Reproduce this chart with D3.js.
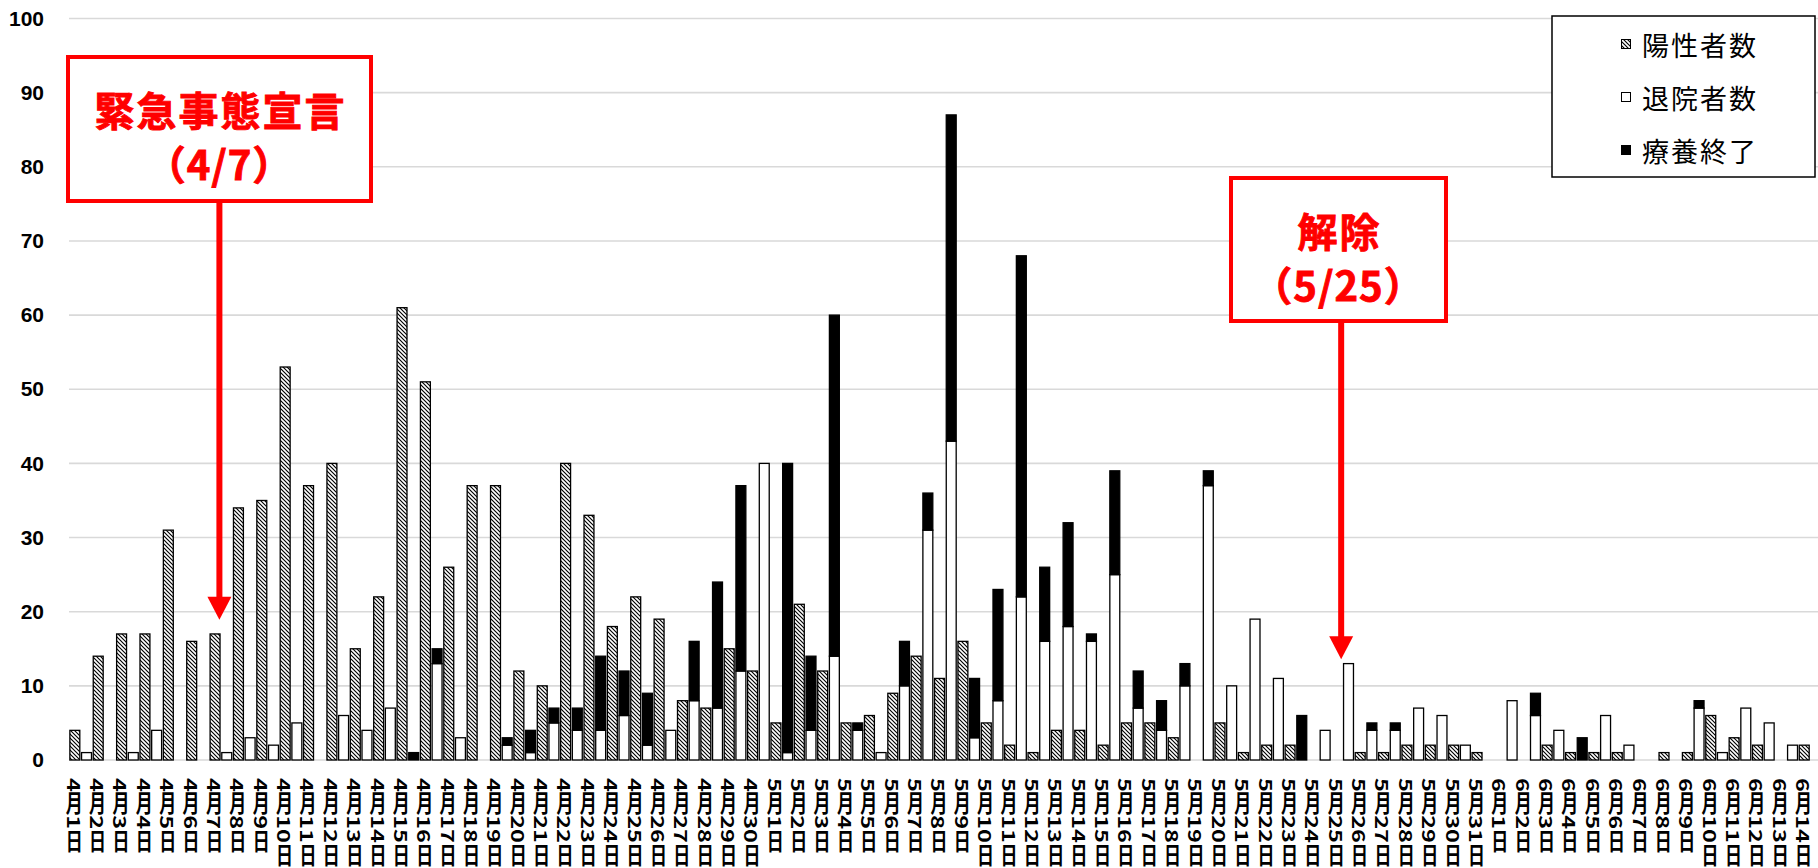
<!DOCTYPE html>
<html>
<head>
<meta charset="utf-8">
<script src="https://cdn.jsdelivr.net/npm/d3@7"></script>
<style>
  html, body { margin: 0; padding: 0; background: #fff; }
  svg { display: block; }
</style>
</head>
<body>
<svg id="chart" width="1818" height="868"></svg>
<script>
// Daily categories, April 1 to June 14
const dates = [
  "4月1日","4月2日","4月3日","4月4日","4月5日","4月6日","4月7日","4月8日","4月9日","4月10日",
  "4月11日","4月12日","4月13日","4月14日","4月15日","4月16日","4月17日","4月18日","4月19日","4月20日",
  "4月21日","4月22日","4月23日","4月24日","4月25日","4月26日","4月27日","4月28日","4月29日","4月30日",
  "5月1日","5月2日","5月3日","5月4日","5月5日","5月6日","5月7日","5月8日","5月9日","5月10日",
  "5月11日","5月12日","5月13日","5月14日","5月15日","5月16日","5月17日","5月18日","5月19日","5月20日",
  "5月21日","5月22日","5月23日","5月24日","5月25日","5月26日","5月27日","5月28日","5月29日","5月30日",
  "5月31日","6月1日","6月2日","6月3日","6月4日","6月5日","6月6日","6月7日","6月8日","6月9日",
  "6月10日","6月11日","6月12日","6月13日","6月14日"
];

// 陽性者数 (new positives)
const positives = [
  4,14,17,17,31,16,17,34,35,53,
  37,40,15,22,61,51,26,37,37,12,
  10,40,33,18,22,19,8,7,15,12,
  5,21,12,5,6,9,14,11,16,5,
  2,1,4,4,2,5,5,3,0,5,
  1,2,2,0,0,1,1,2,2,2,
  1,0,0,2,1,1,1,0,1,1,
  6,3,2,0,2
];

// 退院者数 (discharged)
const discharged = [
  1,0,1,4,0,0,1,3,2,5,
  0,6,4,7,0,13,3,0,2,1,
  5,4,4,6,2,4,8,7,12,40,
  1,4,14,4,1,10,31,43,3,8,
  22,16,18,16,25,7,4,10,37,10,
  19,11,0,4,13,4,4,7,6,2,
  0,8,6,4,0,6,2,0,0,7,
  1,7,5,2,0
];

// 療養終了 (end of treatment), stacked on top of discharged
const treatmentEnded = [
  0,0,0,0,0,0,0,0,0,0,
  0,0,0,0,1,2,0,0,1,3,
  2,3,10,6,7,0,8,17,25,0,
  39,10,46,1,0,6,5,44,8,15,
  46,10,14,1,14,5,4,3,2,0,
  0,0,6,0,0,1,1,0,0,0,
  0,0,3,0,3,0,0,0,0,1,
  0,0,0,0,0
];

const seriesNames = ["陽性者数", "退院者数", "療養終了"];
const yTicks = [0, 10, 20, 30, 40, 50, 60, 70, 80, 90, 100];

// Event callouts
const events = [
  { date: "4月7日", title: "緊急事態宣言", sub: "（4/7）", tip: 18.9,
    box: { x: 68, y: 57, w: 303, h: 144 } },
  { date: "5月25日", title: "解除", sub: "（5/25）", tip: 13.6,
    box: { x: 1231, y: 178, w: 215, h: 143 } }
];

const svg = d3.select("#chart");
const band = 23.37;
const left = 69;

const x = d3.scaleBand().domain(dates).range([left, left + band * dates.length]);
const sub = d3.scaleBand().domain(["pos", "dis"]).range([0, x.bandwidth()])
  .paddingInner(0.15).paddingOuter(0.075);
const y = d3.scaleLinear().domain([0, 100]).range([760, 18.5]);

// Diagonal hatch fill for positives
const defs = svg.append("defs");
const pat = defs.append("pattern").attr("id", "hatch")
  .attr("patternUnits", "userSpaceOnUse").attr("width", 4).attr("height", 4);
pat.append("rect").attr("width", 4).attr("height", 4).attr("fill", "#fff");
pat.append("path").attr("d", "M-1,-1 L5,5 M-1,3 L1,5 M3,-1 L5,1")
  .attr("stroke", "#000").attr("stroke-width", 1.15);

// Horizontal gridlines
svg.append("g").selectAll("line").data(yTicks).join("line")
  .attr("x1", left).attr("x2", 1818)
  .attr("y1", d => y(d)).attr("y2", d => y(d))
  .attr("stroke", "#d9d9d9").attr("stroke-width", 1.6);

// Y axis labels
const yAxis = svg.append("g").attr("transform", `translate(${left},0)`)
  .call(d3.axisLeft(y).tickValues(yTicks).tickSize(0).tickPadding(25));
yAxis.select(".domain").remove();
yAxis.selectAll("text")
  .attr("font-family", "'Liberation Sans', Arial, sans-serif")
  .attr("font-weight", "bold").attr("font-size", 21).attr("fill", "#000");

const rows = dates.map((d, i) => ({
  date: d, pos: positives[i], dis: discharged[i], end: treatmentEnded[i]
}));

const bars = svg.append("g").attr("stroke", "#000").attr("stroke-width", 1.3);

// Positives
bars.selectAll("rect.pos").data(rows.filter(r => r.pos > 0)).join("rect")
  .attr("class", "pos")
  .attr("x", r => x(r.date) + sub("pos"))
  .attr("width", sub.bandwidth())
  .attr("y", r => y(r.pos))
  .attr("height", r => y(0) - y(r.pos))
  .attr("fill", "url(#hatch)");

// Discharged (bottom) and end of treatment (top) stack
const stack = d3.stack().keys(["dis", "end"])(rows);
const fills = { dis: "#fff", end: "#000" };
stack.forEach(layer => {
  bars.selectAll(null).data(layer.filter(s => s[1] - s[0] > 0)).join("rect")
    .attr("x", s => x(s.data.date) + sub("dis"))
    .attr("width", sub.bandwidth())
    .attr("y", s => y(s[1]))
    .attr("height", s => y(s[0]) - y(s[1]))
    .attr("fill", fills[layer.key]);
});

// Date labels, written vertically
svg.append("g").selectAll("text").data(dates).join("text")
  .attr("transform", d => `translate(${x(d) + x.bandwidth() / 2 - 6.5},778) scale(1,1.38)`)
  .style("writing-mode", "vertical-rl")
  .attr("font-family", "'Noto Sans CJK JP', sans-serif")
  .attr("font-weight", "bold").attr("font-size", 17).attr("fill", "#000")
  .text(d => d);

// Legend
const lg = svg.append("g");
lg.append("rect").attr("x", 1552).attr("y", 16).attr("width", 263).attr("height", 161)
  .attr("fill", "#fff").attr("stroke", "#000").attr("stroke-width", 1.5);
const legendFills = ["url(#hatch)", "#fff", "#000"];
const legendY = [44, 97, 150];
seriesNames.forEach((name, i) => {
  lg.append("rect").attr("x", 1621.5).attr("y", legendY[i] - 4.5)
    .attr("width", 9).attr("height", 9)
    .attr("fill", legendFills[i]).attr("stroke", "#000").attr("stroke-width", 1);
  lg.append("text").attr("x", 1642).attr("y", legendY[i])
    .attr("dominant-baseline", "central")
    .attr("font-family", "'Noto Sans CJK JP', sans-serif")
    .attr("font-size", 27).attr("letter-spacing", 2).attr("fill", "#000")
    .text(name);
});

// Event callouts with arrows
const red = "#ff0000";
events.forEach(ev => {
  const g = svg.append("g");
  const b = ev.box;
  const cx = x(ev.date) + x.bandwidth() / 2 - 1.5;
  const tipY = y(ev.tip);
  const head = 23;
  g.append("line").attr("x1", cx).attr("x2", cx)
    .attr("y1", b.y + b.h).attr("y2", tipY - head + 1)
    .attr("stroke", red).attr("stroke-width", 6);
  g.append("path")
    .attr("d", `M${cx - 12},${tipY - head} L${cx + 12},${tipY - head} L${cx},${tipY} Z`)
    .attr("fill", red);
  g.append("rect").attr("x", b.x).attr("y", b.y).attr("width", b.w).attr("height", b.h)
    .attr("fill", "#fff").attr("stroke", red).attr("stroke-width", 4);
  const bx = b.x + b.w / 2;
  g.append("text").attr("x", bx + 1).attr("y", b.y + 52)
    .attr("text-anchor", "middle").attr("dominant-baseline", "central")
    .attr("font-family", "'Noto Sans CJK JP', sans-serif").attr("font-weight", "bold")
    .attr("font-size", 40).attr("letter-spacing", 2).attr("fill", red)
    .attr("stroke", red).attr("stroke-width", 0.9)
    .text(ev.title);
  g.append("text").attr("x", bx).attr("y", b.y + 106)
    .attr("text-anchor", "middle").attr("dominant-baseline", "central")
    .attr("font-family", "'Noto Sans CJK JP', sans-serif").attr("font-weight", "bold")
    .attr("font-size", 40).attr("letter-spacing", 1).attr("fill", red)
    .attr("stroke", red).attr("stroke-width", 0.9)
    .text(ev.sub);
});
</script>
</body>
</html>
